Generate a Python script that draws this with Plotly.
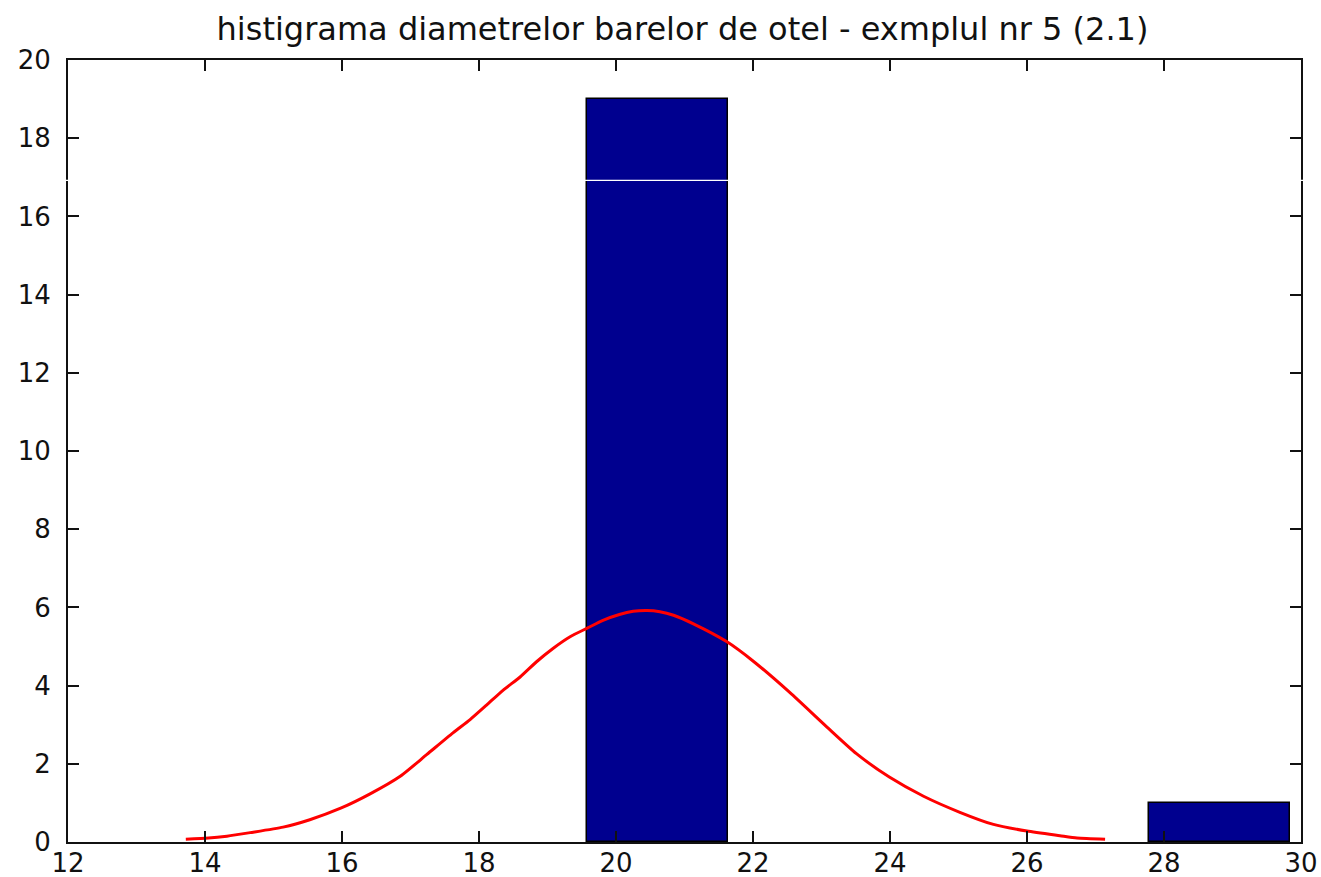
import plotly.graph_objects as go

# ---- data ----
bin_centers = [20.6, 28.81]
bin_counts = [19, 1]
bin_width = 2.06

curve_x = [13.72, 14.05, 14.32, 14.66, 15.14, 15.53, 15.99, 16.41, 16.85, 17.24,
           17.62, 17.87, 18.11, 18.35, 18.60, 18.84, 19.08, 19.33, 19.58, 19.81,
           20.05, 20.25, 20.45, 20.64, 20.84, 21.13, 21.62, 22.0, 22.54, 23.08,
           23.51, 23.99, 24.49, 25.02, 25.51, 26.0, 26.48, 26.73, 27.14]
curve_y = [0.07, 0.10, 0.15, 0.24, 0.38, 0.57, 0.87, 1.23, 1.68, 2.24,
           2.79, 3.13, 3.50, 3.88, 4.22, 4.61, 4.95, 5.25, 5.47, 5.67,
           5.82, 5.90, 5.92, 5.89, 5.80, 5.58, 5.12, 4.63, 3.82, 2.94,
           2.26, 1.66, 1.17, 0.76, 0.45, 0.28, 0.16, 0.10, 0.07]

x_ticks = [12, 14, 16, 18, 20, 22, 24, 26, 28, 30]
y_ticks = [0, 2, 4, 6, 8, 10, 12, 14, 16, 18, 20]
title_text = "histigrama diametrelor barelor de otel - exmplul nr 5 (2.1)"

FONT = "DejaVu Sans, Liberation Sans, Arial, sans-serif"

fig = go.Figure()
fig.add_trace(go.Bar(
    x=bin_centers, y=bin_counts, width=[bin_width] * len(bin_centers),
    marker=dict(color="#00008F", line=dict(color="black", width=1.5)),
    showlegend=False,
))
fig.add_trace(go.Scatter(
    x=curve_x, y=curve_y, mode="lines",
    line=dict(color="#FF0000", width=3, shape="spline", smoothing=0.6),
    showlegend=False,
))

axis_common = dict(
    showgrid=False, zeroline=False, showline=True, linecolor="#111111",
    linewidth=2, mirror="ticks", ticks="inside", ticklen=11, tickwidth=1.5,
    tickcolor="#111111", tickfont=dict(family=FONT, size=26, color="#111111"),
)

fig.update_layout(
    width=1321, height=877,
    margin=dict(l=68, r=20, t=60, b=35, autoexpand=False),
    paper_bgcolor="white", plot_bgcolor="white",
    bargap=0,
    title=dict(text=title_text, x=682.5 / 1321, xanchor="center", y=1 - 29 / 877,
               yanchor="middle", yref="container",
               font=dict(family=FONT, size=32, color="#111111")),
    xaxis=dict(range=[12, 30], tickvals=x_ticks, ticklabelstandoff=-3, **axis_common),
    yaxis=dict(range=[0, 20], tickvals=y_ticks, ticklabelstandoff=10, **axis_common),
)

# thin white scan artefact crossing the figure
fig.add_shape(type="line", xref="paper", yref="y", x0=-0.02, x1=1.02,
              y0=16.92, y1=16.92, line=dict(color="white", width=1.2), layer="above")

fig.write_html("out.html")
